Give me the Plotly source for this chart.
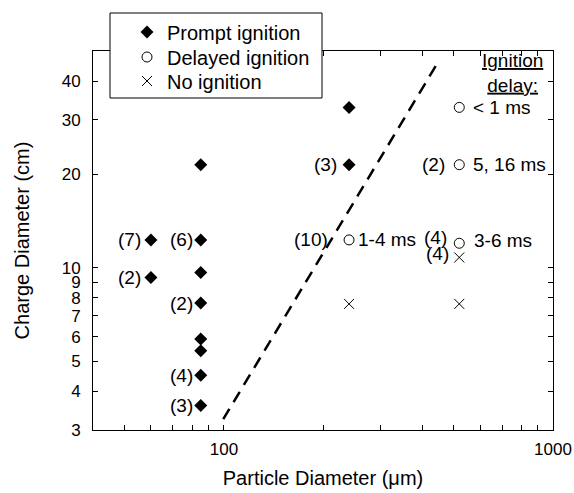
import math
import plotly.graph_objects as go

# ---------------- data ----------------
prompt_x = [60, 60, 85, 85, 85, 85, 85, 85, 85, 85, 240, 240]
prompt_y = [12.3, 9.3, 21.5, 12.3, 9.65, 7.7, 5.9, 5.4, 4.5, 3.6, 32.9, 21.5]

delayed_x = [240, 519, 519, 519]
delayed_y = [12.3, 32.9, 21.5, 12.0]

none_x = [240, 519, 519]
none_y = [7.65, 7.65, 10.8]

boundary_x = [99.5, 445]
boundary_y = [3.25, 45.6]

count_x = [60, 60, 85, 85, 85, 85, 240, 240, 519, 519, 519]
count_y = [12.3, 9.3, 12.3, 7.7, 4.5, 3.6, 21.5, 12.3, 21.5, 12.0, 10.8]
count_text = ["(7)", "(2)", "(6)", "(2)", "(4)", "(3)", "(3)", "(10)", "(2)", "(4)", "(4)"]

delay_x = [519, 519, 519, 240]
delay_y = [32.9, 21.5, 12.0, 12.3]
delay_text = ["< 1 ms", "5, 16 ms", "3-6 ms", "1-4 ms"]

x_tickvals = [50, 60, 70, 80, 90, 100, 200, 300, 400, 500, 600, 700, 800, 900, 1000]
x_ticktext = ["", "", "", "", "", "100", "", "", "", "", "", "", "", "", "1000"]
y_tickvals = [3, 4, 5, 6, 7, 8, 9, 10, 20, 30, 40]
y_ticktext = ["3", "4", "5", "6", "7", "8", "9", "10", "20", "30", "40"]

# ---------------- styles / offsets ----------------
count_xshift = [-8, -8, -6, -6, -6, -6, -10, -19, -12, -10, -8]
count_yshift = [0, 0, 0, 0, 0, 0, 0, 0, 0, 6, 4]
delay_xshift = [12, 12, 13, 7]
delay_yshift = [0, 0, 3, 0]

FONT = "Liberation Sans, Arial, sans-serif"
W, H = 574, 493
L, R, T, B = 93, 21, 51, 63
PW, PH = W - L - R, H - T - B


def px_to_paper(xp, yp):
    return (xp - L) / PW, (H - B - yp) / PH


fig = go.Figure()

fig.add_trace(go.Scatter(
    x=boundary_x, y=boundary_y, mode="lines",
    line=dict(color="black", width=2.5, dash="12px,8px"),
    showlegend=False, hoverinfo="skip"))

fig.add_trace(go.Scatter(
    x=prompt_x, y=prompt_y, mode="markers", name="Prompt ignition",
    marker=dict(symbol="diamond", size=10, color="black"),
    legend="legend"))
fig.add_trace(go.Scatter(
    x=delayed_x, y=delayed_y, mode="markers", name="Delayed ignition",
    marker=dict(symbol="circle-open", size=10, color="black", line=dict(width=1)),
    legend="legend2"))
fig.add_trace(go.Scatter(
    x=none_x, y=none_y, mode="markers", name="No ignition",
    marker=dict(symbol="x-thin-open", size=10, color="black", line=dict(width=1)),
    legend="legend3"))

annotations = []
for xv, yv, t, dx, dy in zip(count_x, count_y, count_text, count_xshift, count_yshift):
    annotations.append(dict(x=math.log10(xv), y=math.log10(yv), xref="x", yref="y",
                            text=t, showarrow=False,
                            xanchor="right", yanchor="middle", xshift=dx, yshift=dy,
                            font=dict(family=FONT, size=19, color="black")))
for xv, yv, t, dx, dy in zip(delay_x, delay_y, delay_text, delay_xshift, delay_yshift):
    annotations.append(dict(x=math.log10(xv), y=math.log10(yv), xref="x", yref="y",
                            text=t, showarrow=False,
                            xanchor="left", yanchor="middle", xshift=dx, yshift=dy,
                            font=dict(family=FONT, size=19, color="black")))
hx, hy = px_to_paper(512, 73)
annotations.append(dict(x=hx, y=hy, xref="paper", yref="paper",
                        text="<u>Ignition</u><br><u>delay:</u>", showarrow=False,
                        xanchor="center", yanchor="middle", align="center",
                        font=dict(family=FONT, size=19, color="black")))

bx0, by0 = px_to_paper(110, 98)
bx1, by1 = px_to_paper(322, 13)
shapes = [dict(type="rect", xref="paper", yref="paper", x0=bx0, x1=bx1, y0=by0, y1=by1,
               line=dict(color="black", width=1), fillcolor="white", layer="above")]

lx, _ = px_to_paper(127, 0)
leg_common = dict(x=lx, xanchor="left", yanchor="middle", bgcolor="rgba(0,0,0,0)",
                  borderwidth=0, font=dict(family=FONT, size=20, color="black"))
_, ly1 = px_to_paper(0, 32)
_, ly2 = px_to_paper(0, 57)
_, ly3 = px_to_paper(0, 81)

fig.update_layout(
    width=W, height=H,
    margin=dict(l=L, r=R, t=T, b=B, autoexpand=False),
    paper_bgcolor="white", plot_bgcolor="white",
    font=dict(family=FONT, size=17, color="black"),
    legend=dict(y=ly1, **leg_common),
    legend2=dict(y=ly2, **leg_common),
    legend3=dict(y=ly3, **leg_common),
    annotations=annotations,
    shapes=shapes,
    xaxis=dict(type="log", range=[1.602, 3.0], tickvals=x_tickvals, ticktext=x_ticktext,
               ticks="inside", ticklen=5, tickwidth=1, tickcolor="black",
               showline=True, linecolor="black", linewidth=1, mirror="ticks",
               showgrid=False, zeroline=False, ticklabelstandoff=4,
               title=dict(text="Particle Diameter (μm)", standoff=12,
                          font=dict(family=FONT, size=20))),
    yaxis=dict(type="log", range=[0.4771, 1.699], tickvals=y_tickvals, ticktext=y_ticktext,
               ticks="inside", ticklen=5, tickwidth=1, tickcolor="black",
               showline=True, linecolor="black", linewidth=1, mirror="ticks",
               showgrid=False, zeroline=False, ticklabelstandoff=8,
               title=dict(text="Charge Diameter (cm)", standoff=26,
                          font=dict(family=FONT, size=20))),
)

fig.write_html("out.html", config={"displayModeBar": False},
               post_script="document.body.style.margin='0';")
